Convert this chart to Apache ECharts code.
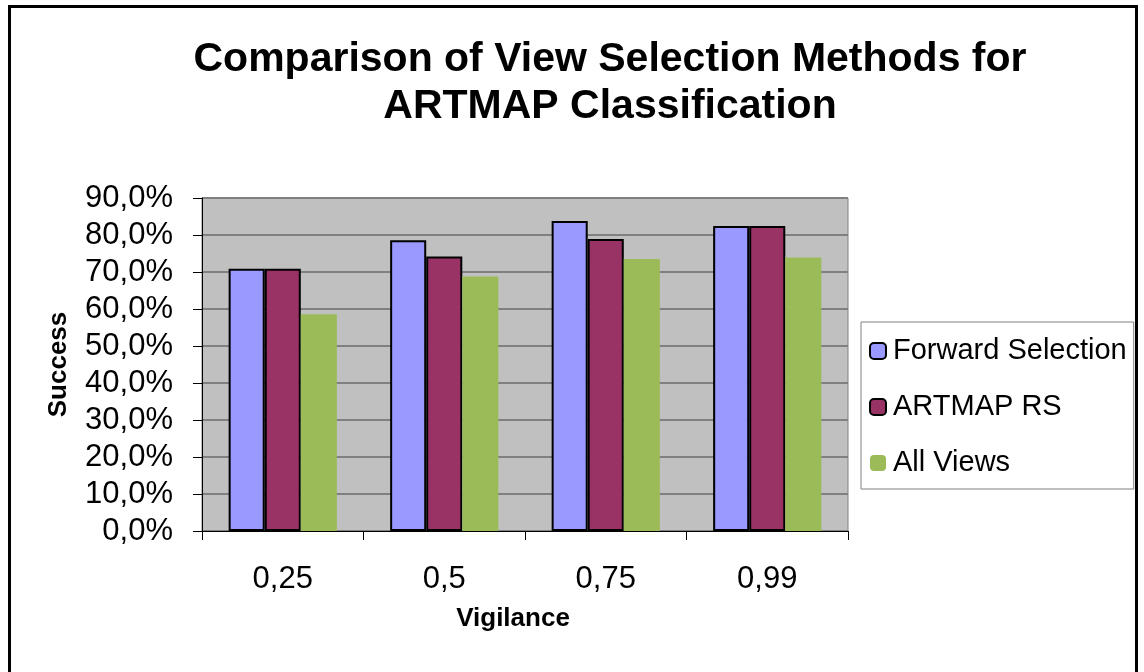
<!DOCTYPE html>
<html>
<head>
<meta charset="utf-8">
<script src="https://cdn.jsdelivr.net/npm/echarts@6/dist/echarts.min.js"></script>
<style>
  html, body { margin: 0; padding: 0; background: #fff; overflow: hidden; }
  #chart { width: 1144px; height: 672px; position: absolute; left: 0; top: 0; }
  #frame { position: absolute; left: 8px; top: 5px; width: 1130px; height: 720px; border: 3px solid #000; box-sizing: border-box; pointer-events: none; }
</style>
</head>
<body>
<div id="chart"></div>
<div id="frame"></div>
<script>
const categories = ["0,25", "0,5", "0,75", "0,99"]
const forwardSelection = [0.709, 0.786, 0.838, 0.824]
const artmapRS = [0.709, 0.742, 0.789, 0.824]
const allViews = [0.586, 0.688, 0.735, 0.739]
const yTicks = { min: 0, max: 0.9, interval: 0.1 }

const font = "'Liberation Sans', Arial, sans-serif"
const chart = echarts.init(document.getElementById("chart"))

const option = {
  animation: false,
  title: {
    text: "Comparison of View Selection Methods for\nARTMAP Classification",
    left: 610,
    top: 36,
    textAlign: "center",
    padding: 0,
    textStyle: {
      fontFamily: font,
      fontWeight: "bold",
      fontSize: 41,
      lineHeight: 47,
      color: "#000"
    }
  },
  legend: {
    orient: "vertical",
    left: 861,
    top: 322,
    padding: [14, 7, 11, 8],
    itemWidth: 16,
    itemHeight: 16,
    itemGap: 26,
    backgroundColor: "#fff",
    borderColor: "#808080",
    borderWidth: 1,
    borderRadius: 0,
    textStyle: {
      fontFamily: font,
      fontSize: 29,
      lineHeight: 30,
      color: "#000",
      padding: [0, 0, 0, 2]
    },
    data: ["Forward Selection", "ARTMAP RS", "All Views"]
  },
  grid: {
    left: 202,
    right: 296,
    top: 198,
    bottom: 141,
    show: true,
    backgroundColor: "#c0c0c0",
    borderColor: "#808080",
    borderWidth: 1
  },
  xAxis: {
    type: "category",
    data: categories,
    name: "Vigilance",
    nameLocation: "middle",
    nameGap: 75,
    nameTextStyle: {
      fontFamily: font,
      fontWeight: "bold",
      fontSize: 26,
      color: "#000",
      padding: [0, 24, 0, 0]
    },
    axisLine: { lineStyle: { color: "#000", width: 1 } },
    axisTick: { show: true, length: 9, lineStyle: { color: "#000" } },
    axisLabel: {
      fontFamily: font,
      fontSize: 31,
      color: "#000",
      margin: 33
    }
  },
  yAxis: {
    type: "value",
    min: yTicks.min,
    max: yTicks.max,
    interval: yTicks.interval,
    name: "Success",
    nameLocation: "middle",
    nameGap: 130,
    nameTextStyle: {
      fontFamily: font,
      fontWeight: "bold",
      fontSize: 26,
      color: "#000"
    },
    axisLine: { show: true, lineStyle: { color: "#000", width: 1 } },
    axisTick: { show: true, length: 9, lineStyle: { color: "#000" } },
    splitLine: { lineStyle: { color: "#808080", width: 2 } },
    axisLabel: {
      fontFamily: font,
      fontSize: 31,
      color: "#000",
      margin: 29,
      formatter: (v) => (v * 100).toFixed(1).replace(".", ",") + "%"
    }
  },
  series: [
    {
      name: "Forward Selection",
      type: "bar",
      data: forwardSelection,
      barGap: "0%",
      barCategoryGap: "33%",
      itemStyle: { color: "#9999ff", borderColor: "#000", borderWidth: 2 }
    },
    {
      name: "ARTMAP RS",
      type: "bar",
      data: artmapRS,
      itemStyle: { color: "#993366", borderColor: "#000", borderWidth: 2 }
    },
    {
      name: "All Views",
      type: "bar",
      data: allViews,
      itemStyle: { color: "#9bbb59" }
    }
  ]
}

chart.setOption(option)
</script>
</body>
</html>
